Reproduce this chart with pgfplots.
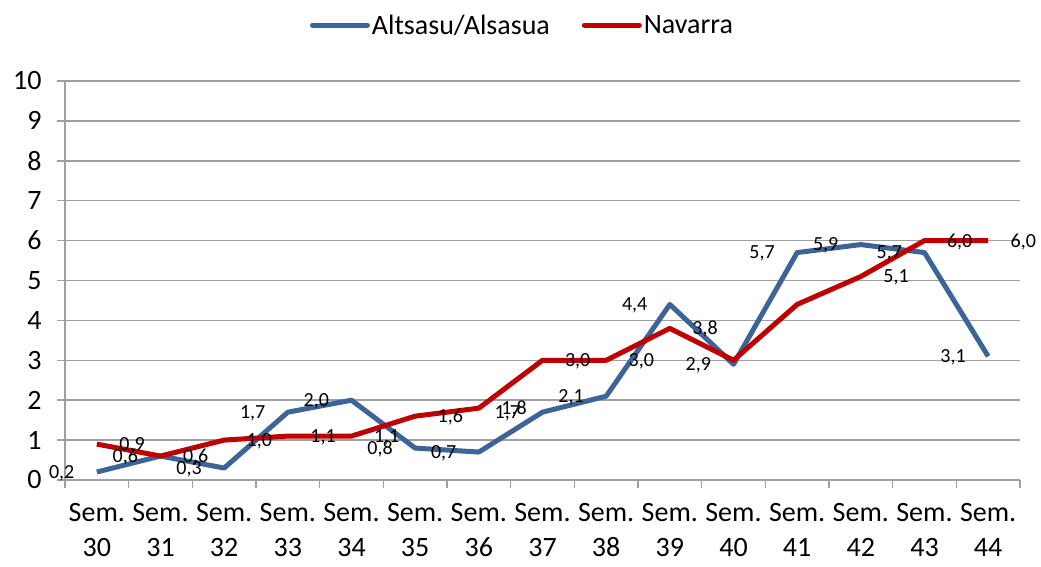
\documentclass[border=0pt]{standalone}
\usepackage{pgfplots}
\pgfplotsset{compat=1.18}
\usepackage{fontspec}
\setmainfont{Carlito}
\definecolor{bl}{RGB}{60,100,150}
\definecolor{rd}{RGB}{192,0,0}
\definecolor{gr}{RGB}{160,160,160}
\begin{document}
\begin{tikzpicture}
\path[use as bounding box] (-65pt,-87pt) rectangle (976pt,480pt);
\begin{axis}[
  at={(0pt,0pt)}, anchor=south west,
  scale only axis, width=955pt, height=399pt,
  xmin=-0.5, xmax=14.5, ymin=0, ymax=10,
  axis x line*=bottom, axis y line*=left,
  axis line style={gr, line width=1.5pt},
  ytick={0,...,10}, ymajorgrids,
  major grid style={gr, line width=1.5pt},
  xtick={0,...,14},
  xticklabels={{Sem.\\30},{Sem.\\31},{Sem.\\32},{Sem.\\33},{Sem.\\34},{Sem.\\35},{Sem.\\36},{Sem.\\37},{Sem.\\38},{Sem.\\39},{Sem.\\40},{Sem.\\41},{Sem.\\42},{Sem.\\43},{Sem.\\44}},
  minor xtick={-0.5,0.5,...,14.5},
  major x tick style={draw=none},
  minor x tick style={gr, line width=1.5pt},
  major y tick style={gr, line width=1.5pt},
  tick align=outside, major tick length=8pt, minor tick length=8pt,
  /pgf/number format/assume math mode=true,
  ticklabel style={font=\fontsize{28}{35}\selectfont},
  xticklabel style={align=center, yshift=-12pt},
  yticklabel style={xshift=-12pt},
  legend columns=2,
  legend style={at={(rel axis cs:0.479,1.14)}, anchor=center, draw=none, fill=none,
    font=\fontsize{28}{34}\selectfont,
    /tikz/every even column/.append style={column sep=30pt},
    inner sep=0pt},
  legend image code/.code={\draw[#1, line cap=round] (0pt,0pt) -- (55pt,0pt);},
  clip=false,
]
\addplot[bl, line width=5pt, line join=round, mark=none] coordinates {
(0,0.2) (1,0.6) (2,0.3) (3,1.7) (4,2.0) (5,0.8) (6,0.7) (7,1.7) (8,2.1) (9,4.4) (10,2.9) (11,5.7) (12,5.9) (13,5.7) (14,3.1)};
\addlegendentry{Altsasu/Alsasua}
\addplot[rd, line width=5pt, line join=round, mark=none] coordinates {
(0,0.9) (1,0.6) (2,1.0) (3,1.1) (4,1.1) (5,1.6) (6,1.8) (7,3.0) (8,3.0) (9,3.8) (10,3.0) (11,4.4) (12,5.1) (13,6.0) (14,6.0)};
\addlegendentry{Navarra}
% data labels
\addplot[draw=none, mark=none, forget plot, point meta=y,
  nodes near coords={\pgfmathprintnumber[fixed,fixed zerofill,precision=1,use comma,assume math mode=true]{\pgfplotspointmeta}},
  nodes near coords style={anchor=east, xshift=-19pt, yshift=-1pt, text=black, font=\fontsize{20}{24}\selectfont}]
coordinates {
(0,0.2) (1,0.6) (2,0.3) (3,1.7) (4,2.0) (5,0.8) (6,0.7) (7,1.7) (8,2.1) (9,4.4) (10,2.9) (11,5.7) (12,5.9) (13,5.7) (14,3.1)};
\addplot[draw=none, mark=none, forget plot, point meta=y,
  nodes near coords={\pgfmathprintnumber[fixed,fixed zerofill,precision=1,use comma,assume math mode=true]{\pgfplotspointmeta}},
  nodes near coords style={anchor=west, xshift=19pt, yshift=-1pt, text=black, font=\fontsize{20}{24}\selectfont}]
coordinates {
(0,0.9) (1,0.6) (2,1.0) (3,1.1) (4,1.1) (5,1.6) (6,1.8) (7,3.0) (8,3.0) (9,3.8) (12,5.1) (13,6.0) (14,6.0)};
\end{axis}
\end{tikzpicture}
\end{document}
